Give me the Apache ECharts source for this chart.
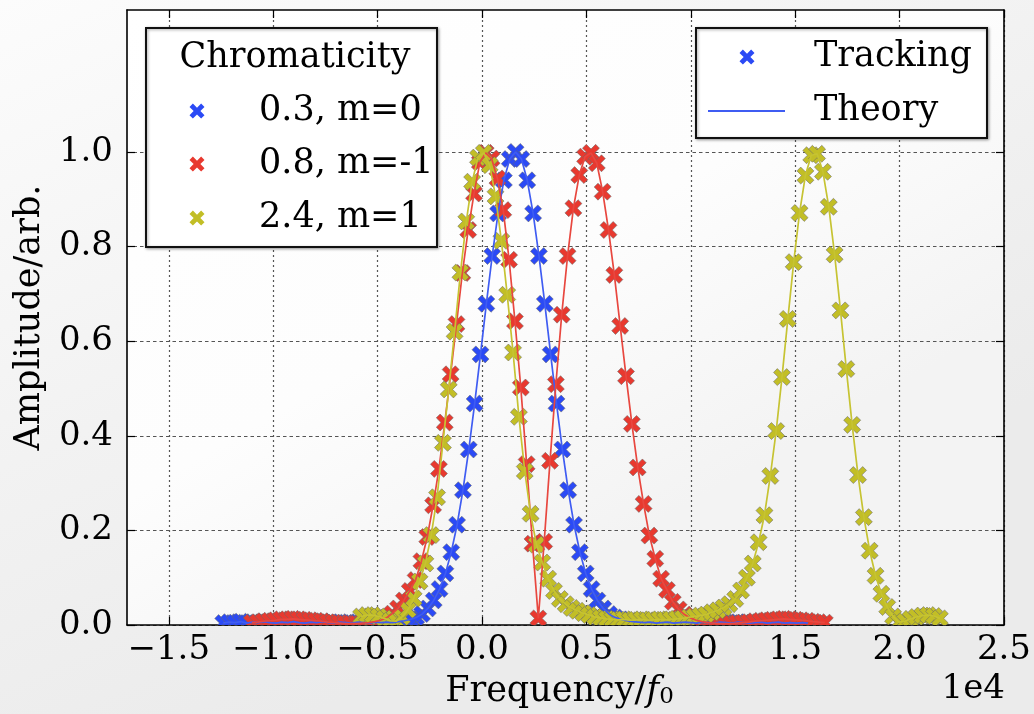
<!DOCTYPE html>
<html>
<head>
<meta charset="utf-8">
<title>Chromaticity spectra</title>
<script src="https://cdn.jsdelivr.net/npm/echarts@6/dist/echarts.min.js"></script>
<style>
  html, body { margin: 0; padding: 0; background: #f6f6f6; }
  #chart { width: 1034px; height: 714px; }
</style>
</head>
<body>
<div id="chart"></div>
<script>
// ---- data -------------------------------------------------------------
// Chromaticity 0.3, mode m = 0
const blueFreq = [
  -12390,-12110,-11830,-11550,-11270,-10990,-10710,-10430,-10150,-9870,
  -9590,-9310,-9030,-8750,-8470,-8190,-7910,-7630,-7350,-7070,
  -6790,-6510,-6230,-5950,-5670,-5390,-5110,-4830,-4550,-4270,
  -3990,-3710,-3430,-3150,-2870,-2590,-2310,-2030,-1750,-1470,
  -1190,-910,-630,-350,-70,210,490,770,1050,1330,
  1610,1890,2170,2450,2730,3010,3290,3570,3850,4130,
  4410,4690,4970,5250,5530,5810,6090,6370,6650,6930,
  7210,7490,7770,8050,8330,8610,8890,9170,9450,9730,
  10010,10290,10570,10850,11130,11410,11690,11970,12250,12530,
  12810,13090,13370,13650,13930,14210,14490,14770,15050,15330,
  15610
];
const blueAmp = [
  0.004,0.006,0.005,0.007,0.004,0.006,0.005,0.007,0.005,0.004,
  0.006,0.005,0.007,0.005,0.004,0.006,0.005,0.007,0.005,0.004,
  0.006,0.005,0.004,0.006,0.005,0.004,0.006,0.005,0.006,0.005,
  0.007,0.009,0.012,0.016,0.023,0.035,0.052,0.076,0.109,0.154,
  0.212,0.285,0.371,0.468,0.572,0.679,0.780,0.870,0.940,0.985,
  1.000,0.985,0.940,0.870,0.780,0.679,0.572,0.468,0.371,0.285,
  0.212,0.154,0.109,0.076,0.052,0.035,0.023,0.016,0.012,0.009,
  0.007,0.006,0.005,0.006,0.004,0.005,0.006,0.004,0.005,0.006,
  0.005,0.004,0.006,0.005,0.004,0.006,0.005,0.004,0.006,0.005,
  0.004,0.005,0.006,0.004,0.005,0.006,0.004,0.005,0.004,0.005,
  0.004
];

// Chromaticity 0.8, mode m = -1
const redFreq = [
  -11020,-10740,-10460,-10180,-9900,-9620,-9340,-9060,-8780,-8500,
  -8220,-7940,-7660,-7380,-7100,-6820,-6540,-6260,-5980,-5700,
  -5420,-5140,-4860,-4580,-4300,-4020,-3740,-3460,-3180,-2900,
  -2620,-2340,-2060,-1780,-1500,-1220,-940,-660,-380,-100,
  180,460,740,1020,1300,1580,1860,2140,2420,2700,
  2980,3260,3540,3820,4100,4380,4660,4940,5220,5500,
  5780,6060,6340,6620,6900,7180,7460,7740,8020,8300,
  8580,8860,9140,9420,9700,9980,10260,10540,10820,11100,
  11380,11660,11940,12220,12500,12780,13060,13340,13620,13900,
  14180,14460,14740,15020,15300,15580,15860,16140,16420
];
const redAmp = [
  0.005,0.006,0.008,0.009,0.010,0.012,0.012,0.013,0.012,0.011,
  0.010,0.009,0.008,0.006,0.005,0.004,0.003,0.003,0.003,0.004,
  0.005,0.007,0.010,0.015,0.024,0.035,0.052,0.072,0.095,0.135,
  0.186,0.253,0.330,0.428,0.530,0.636,0.744,0.835,0.912,0.978,
  0.998,0.986,0.944,0.877,0.772,0.642,0.502,0.340,0.172,0.014,
  0.176,0.347,0.509,0.656,0.780,0.881,0.951,0.990,0.998,0.976,
  0.916,0.835,0.740,0.632,0.526,0.425,0.333,0.256,0.189,0.140,
  0.098,0.074,0.049,0.033,0.022,0.015,0.010,0.007,0.005,0.004,
  0.003,0.003,0.003,0.004,0.005,0.006,0.008,0.009,0.010,0.011,
  0.012,0.013,0.012,0.011,0.010,0.009,0.007,0.006,0.005
];

// Chromaticity 2.4, mode m = 1
const yellowFreq = [
  -5790,-5510,-5230,-4950,-4670,-4390,-4110,-3830,-3550,-3270,
  -2990,-2710,-2430,-2150,-1870,-1590,-1310,-1030,-750,-470,
  -190,90,370,650,930,1210,1490,1770,2050,2330,
  2610,2890,3170,3450,3730,4010,4290,4570,4850,5130,
  5410,5690,5970,6250,6530,6810,7090,7370,7650,7930,
  8210,8490,8770,9050,9330,9610,9890,10170,10450,10730,
  11010,11290,11570,11850,12130,12410,12690,12970,13250,13530,
  13810,14090,14370,14650,14930,15210,15490,15770,16050,16330,
  16610,16890,17170,17450,17730,18010,18290,18570,18850,19130,
  19410,19690,19970,20250,20530,20810,21090,21370,21650,21930
];
const yellowAmp = [
  0.018,0.021,0.021,0.018,0.014,0.009,0.008,0.017,0.032,0.056,
  0.092,0.130,0.190,0.270,0.385,0.498,0.620,0.745,0.853,0.937,
  0.988,0.998,0.972,0.906,0.812,0.698,0.576,0.440,0.325,0.235,
  0.170,0.132,0.098,0.072,0.055,0.044,0.036,0.030,0.025,0.021,
  0.017,0.015,0.013,0.012,0.011,0.012,0.010,0.011,0.012,0.010,
  0.011,0.012,0.011,0.012,0.013,0.014,0.016,0.018,0.020,0.022,
  0.027,0.031,0.037,0.044,0.055,0.073,0.100,0.130,0.175,0.232,
  0.315,0.410,0.524,0.647,0.767,0.871,0.950,0.993,0.996,0.958,
  0.884,0.783,0.665,0.541,0.423,0.317,0.228,0.157,0.104,0.066,
  0.038,0.018,0.006,0.008,0.013,0.017,0.020,0.021,0.019,0.014
];

const seriesNames = ['0.3, m=0', '0.8, m=-1', '2.4, m=1'];
const xTicks = [-15000, -10000, -5000, 0, 5000, 10000, 15000, 20000, 25000];
const yTicks = [0, 0.2, 0.4, 0.6, 0.8, 1.0];

// ---- styling ----------------------------------------------------------
const FONT = '"DejaVu Serif", "Liberation Serif", serif';
const TICK_SIZE = 34;
const TEXT_SIZE = 35;
const COLORS = ['#2b4af5', '#e8392f', '#c2be26'];
const LINE_COLORS = ['#3f5cf2', '#e8473f', '#c6c332'];
// thick "x" outline in a 16x16 box
const CROSS_PTS = [[3.6,0],[8,4.4],[12.4,0],[16,3.6],[11.6,8],[16,12.4],[12.4,16],[8,11.6],[3.6,16],[0,12.4],[4.4,8],[0,3.6]];
const MARK = 17;

function crossAt(cx, cy, size) {
  const k = size / 16;
  return CROSS_PTS.map(p => [cx - size / 2 + p[0] * k, cy - size / 2 + p[1] * k]);
}

const pairs = (xs, ys) => xs.map((x, i) => [x, ys[i]]);
const datasets = [
  pairs(blueFreq, blueAmp),
  pairs(redFreq, redAmp),
  pairs(yellowFreq, yellowAmp)
];

function crossRenderer(color) {
  return function (params, api) {
    const p = api.coord([api.value(0), api.value(1)]);
    return {
      type: 'polygon',
      shape: { points: crossAt(p[0], p[1], MARK) },
      style: { fill: color, stroke: 'rgba(105,105,105,0.55)', lineWidth: 1 }
    };
  };
}

const series = [];
datasets.forEach((data, i) => {
  series.push({
    name: seriesNames[i] + ' tracking',
    type: 'custom',
    clip: true,
    data: data,
    encode: { x: 0, y: 1 },
    renderItem: crossRenderer(COLORS[i])
  });
  series.push({
    name: seriesNames[i] + ' theory',
    type: 'line',
    data: data,
    showSymbol: false,
    symbol: 'none',
    clip: true,
    lineStyle: { color: LINE_COLORS[i], width: 1.7 },
    emphasis: { disabled: true }
  });
});

const tickLabel = { fontFamily: FONT, fontSize: TICK_SIZE, color: '#000' };

const fmtX = v => (v / 10000).toFixed(1).replace('-', '\u2212');
const fmtY = v => v.toFixed(1);

const axisBase = {
  axisLine: { show: true, onZero: false, lineStyle: { color: '#000', width: 1.6 } },
  axisTick: { show: true, inside: true, length: 8, lineStyle: { color: '#000', width: 1.2 } }
};

const textFont = TEXT_SIZE + 'px ' + FONT;

// legend boxes, drawn in plain graphics
const legendGraphics = [
  { type: 'rect', z: 100, shape: { x: 146, y: 28, width: 291, height: 219 },
    style: { fill: '#fff', stroke: '#111', lineWidth: 2, shadowBlur: 3, shadowOffsetX: 1, shadowOffsetY: 1, shadowColor: 'rgba(0,0,0,0.35)' } },
  { type: 'text', z: 101, x: 295, y: 58,
    style: { text: 'Chromaticity', font: textFont, fill: '#000', textAlign: 'center', textVerticalAlign: 'middle' } },
  { type: 'rect', z: 100, shape: { x: 696, y: 28, width: 291, height: 110 },
    style: { fill: '#fff', stroke: '#111', lineWidth: 2, shadowBlur: 3, shadowOffsetX: 1, shadowOffsetY: 1, shadowColor: 'rgba(0,0,0,0.35)' } },
  { type: 'polygon', z: 101, shape: { points: crossAt(747, 57, 15) },
    style: { fill: COLORS[0] } },
  { type: 'text', z: 101, x: 814, y: 57,
    style: { text: 'Tracking', font: textFont, fill: '#000', textAlign: 'left', textVerticalAlign: 'middle' } },
  { type: 'line', z: 101, shape: { x1: 708, y1: 111, x2: 785, y2: 111 },
    style: { stroke: LINE_COLORS[0], lineWidth: 2 } },
  { type: 'text', z: 101, x: 814, y: 111,
    style: { text: 'Theory', font: textFont, fill: '#000', textAlign: 'left', textVerticalAlign: 'middle' } },
  { type: 'text', z: 101, x: 1005, y: 689,
    style: { text: '1e4', font: TICK_SIZE + 'px ' + FONT, fill: '#000', textAlign: 'right', textVerticalAlign: 'middle' } }
];
const rowY = [111, 164, 218];
seriesNames.forEach((name, i) => {
  legendGraphics.push({ type: 'polygon', z: 101,
    shape: { points: crossAt(197, rowY[i], 15) },
    style: { fill: COLORS[i] } });
  legendGraphics.push({ type: 'text', z: 101, x: 259, y: rowY[i],
    style: { text: name, font: textFont, fill: '#000', textAlign: 'left', textVerticalAlign: 'middle' } });
});

const option = {
  animation: false,
  backgroundColor: {
    type: 'linear', x: 0, y: 0, x2: 0.3, y2: 1,
    colorStops: [{ offset: 0, color: '#fcfcfc' }, { offset: 0.55, color: '#f2f2f2' }, { offset: 1, color: '#ebebeb' }]
  },
  grid: {
    left: 127, top: 10, width: 878, height: 617,
    show: true, borderWidth: 0,
    backgroundColor: {
      type: 'linear', x: 0, y: 0, x2: 0.4, y2: 1,
      colorStops: [{ offset: 0, color: '#ffffff' }, { offset: 0.6, color: '#fdfdfd' }, { offset: 1, color: '#f3f3f3' }]
    }
  },
  xAxis: [
    Object.assign({}, axisBase, {
      type: 'value', min: -17000, max: 25000, position: 'bottom',
      axisTick: Object.assign({}, axisBase.axisTick, { customValues: xTicks }),
      axisLabel: Object.assign({}, tickLabel, { customValues: xTicks, formatter: fmtX, margin: 8 }),
      splitLine: { show: true, lineStyle: { color: '#555', width: 1.2, type: [2, 3] } },
      name: 'Frequency/{f|f}{s|0}',
      nameLocation: 'middle',
      nameGap: 49,
      nameTextStyle: {
        fontFamily: FONT, fontSize: TEXT_SIZE, color: '#000',
        padding: [0, 12, 0, 0],
        rich: {
          f: { fontFamily: FONT, fontSize: TEXT_SIZE, fontStyle: 'italic', color: '#000' },
          s: { fontFamily: FONT, fontSize: 23, color: '#000', verticalAlign: 'bottom', padding: [11, 0, 0, 0] }
        }
      }
    }),
    Object.assign({}, axisBase, {
      type: 'value', min: -17000, max: 25000, position: 'top',
      axisTick: Object.assign({}, axisBase.axisTick, { customValues: xTicks }),
      axisLabel: { show: false },
      splitLine: { show: false }
    })
  ],
  yAxis: [
    Object.assign({}, axisBase, {
      type: 'value', min: 0, max: 1.3, position: 'left',
      axisTick: Object.assign({}, axisBase.axisTick, { customValues: yTicks }),
      axisLabel: Object.assign({}, tickLabel, { customValues: yTicks, formatter: fmtY, margin: 14 }),
      splitLine: { show: true, lineStyle: { color: '#555', width: 1.2, type: [3.5, 3] } },
      name: 'Amplitude/arb.',
      nameLocation: 'middle',
      nameGap: 80,
      nameTextStyle: { fontFamily: FONT, fontSize: TEXT_SIZE, color: '#000' }
    }),
    Object.assign({}, axisBase, {
      type: 'value', min: 0, max: 1.3, position: 'right',
      axisTick: Object.assign({}, axisBase.axisTick, { customValues: yTicks }),
      axisLabel: { show: false },
      splitLine: { show: false }
    })
  ],
  graphic: legendGraphics,
  series: series
};

const chart = echarts.init(document.getElementById('chart'), null, { renderer: 'canvas' });
chart.setOption(option);
</script>
</body>
</html>
